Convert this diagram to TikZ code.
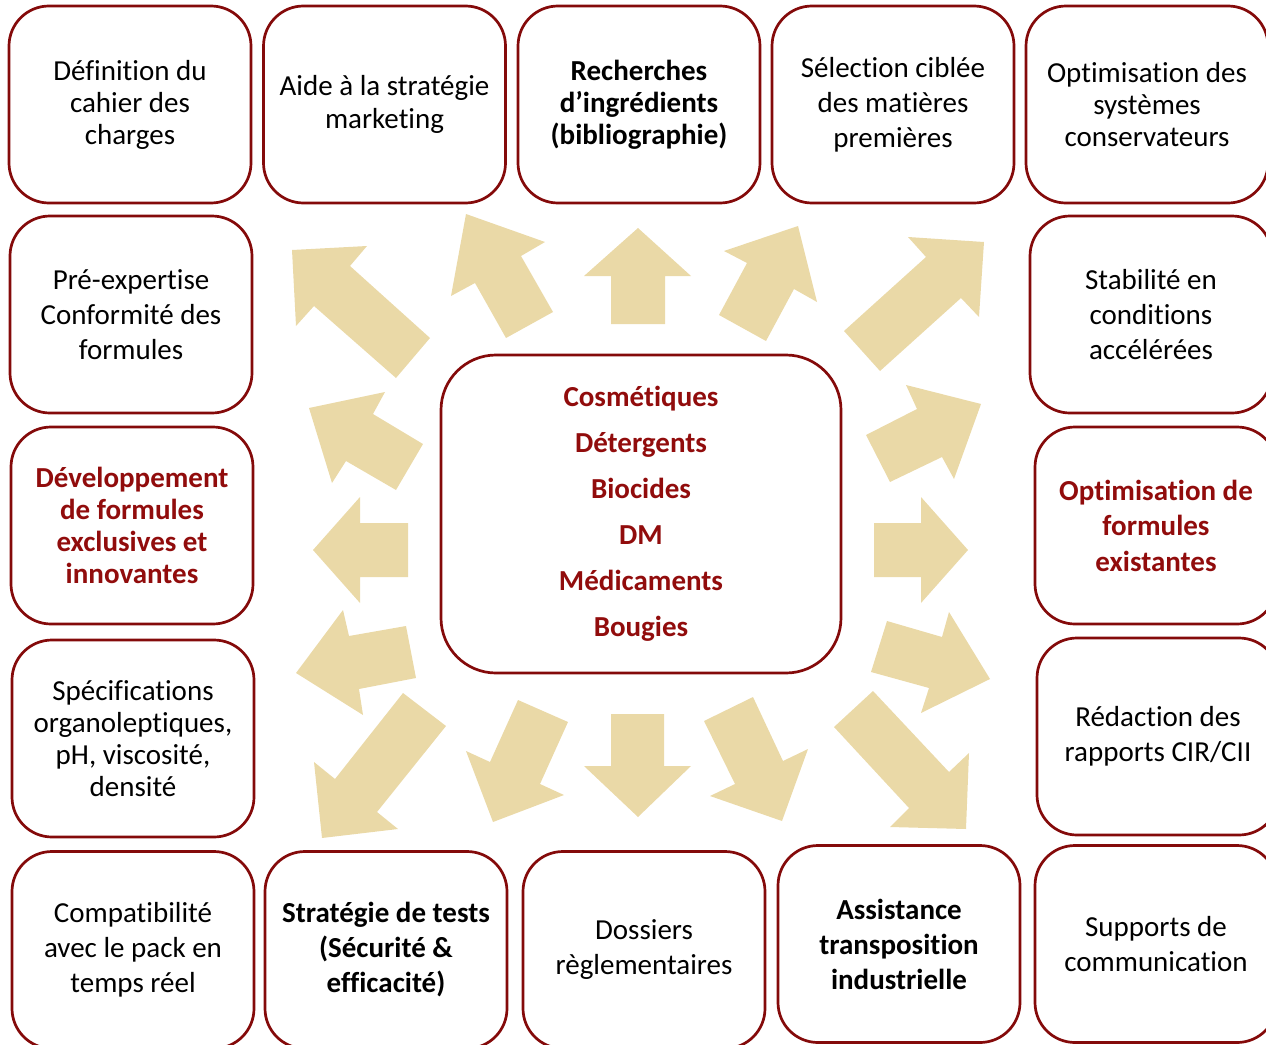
\documentclass[tikz,border=0pt]{standalone}
\usepackage{fontspec}
\setmainfont[Ligatures=NoCommon]{Carlito}
\definecolor{bord}{RGB}{132,10,10}
\definecolor{redtxt}{RGB}{145,12,12}
\definecolor{tanfill}{RGB}{234,217,167}
\begin{document}
\begin{tikzpicture}[x=1pt,y=-1pt,
  box/.style={draw=bord, line width=2.7pt, rounded corners=40pt, fill=white,
    align=center, minimum width=242pt, minimum height=197pt, inner sep=0pt,
    font=\fontsize{29}{33}\selectfont},
  wide/.style={font=\fontsize{29}{35}\selectfont},
  tight/.style={font=\fontsize{29}{32}\selectfont},
  hl/.style={text=redtxt, font=\fontsize{29}{32}\selectfont\bfseries},
  bld/.style={font=\fontsize{29}{35}\selectfont\bfseries},
  bldtight/.style={font=\fontsize{29}{32}\selectfont\bfseries},
  blockarrow/.style={fill=tanfill, draw=none}]
\path[use as bounding box] (0,0) rectangle (1266,1044);
\clip (0,0) rectangle (1266,1044);

% block arrows
\fill[blockarrow] (292,250) -- (367,246) -- (350,266) -- (430,338) -- (396,378) -- (314,306) -- (296,326) -- cycle;
\fill[blockarrow] (466,214) -- (545,242) -- (521,256) -- (553,312) -- (506,338) -- (475,283) -- (451,296) -- cycle;
\fill[blockarrow] (638,228) -- (691,276) -- (665,276) -- (665,324) -- (611,324) -- (611,276) -- (584,276) -- cycle;
\fill[blockarrow] (798,226) -- (817,302) -- (794,289) -- (766,341) -- (719,315) -- (747,263) -- (724,251) -- cycle;
\fill[blockarrow] (984,242) -- (979,317) -- (961,298) -- (880,371) -- (844,331) -- (926,257) -- (908,237) -- cycle;
\fill[blockarrow] (309,408) -- (385,392) -- (373,414) -- (423,444) -- (396,490) -- (346,461) -- (332,483) -- cycle;
\fill[blockarrow] (313,550) -- (360,497) -- (360,523) -- (408,523) -- (408,577) -- (360,577) -- (360,603) -- cycle;
\fill[blockarrow] (296,673) -- (343,610) -- (349,636) -- (406,626) -- (416,678) -- (359,689) -- (363,715) -- cycle;
\fill[blockarrow] (981,404) -- (954,479) -- (942,457) -- (890,482) -- (866,435) -- (917,409) -- (906,385) -- cycle;
\fill[blockarrow] (968,550) -- (921,603) -- (921,577) -- (874,577) -- (874,523) -- (921,523) -- (921,497) -- cycle;
\fill[blockarrow] (990,679) -- (921,713) -- (929,688) -- (871,672) -- (887,621) -- (942,637) -- (949,612) -- cycle;
\fill[blockarrow] (322,838) -- (314,762) -- (335,779) -- (403,693) -- (446,726) -- (377,812) -- (398,829) -- cycle;
\fill[blockarrow] (493,822) -- (466,751) -- (490,762) -- (518,700) -- (568,722) -- (540,784) -- (564,795) -- cycle;
\fill[blockarrow] (638,817) -- (584,766) -- (611,766) -- (611,714) -- (664,714) -- (664,766) -- (691,766) -- cycle;
\fill[blockarrow] (782,821) -- (710,796) -- (735,784) -- (704,721) -- (753,697) -- (783,761) -- (808,749) -- cycle;
\fill[blockarrow] (966,829) -- (890,827) -- (909,808) -- (834,727) -- (873,691) -- (949,772) -- (969,753) -- cycle;

% top row
\node[box, tight] (b1) at (130,104.5) {Définition du\\cahier des\\charges};
\node[box] (b2) at (384.5,104.5) {Aide à la stratégie\\marketing};
\node[box, bldtight] (b3) at (639,104.5) {Recherches\\d’ingrédients\\(bibliographie)};
\node[box, wide] (b4) at (893,104.5) {Sélection ciblée\\des matières\\premières};
\node[box, tight] (b5) at (1147,104.5) {Optimisation des\\systèmes\\conservateurs};

% left column
\node[box, wide] (l2) at (131,314.5) {Pré-expertise\\Conformité des\\formules};
\node[box, hl] (l3) at (132,525.5) {Développement\\de formules\\exclusives et\\innovantes};
\node[box, tight] (l4) at (133,738.5) {Spécifications\\organoleptiques,\\pH, viscosité,\\densité};

% right column
\node[box, hl, font=\fontsize{29}{35.5}\selectfont\bfseries] (r3) at (1156,525.5) {Optimisation de\\formules\\existantes};
\node[box, wide] (r2) at (1151,314.5) {Stabilité en\\conditions\\accélérées};
\node[box, wide] (r4) at (1158,736.5) {Rédaction des\\rapports CIR/CII};

% bottom row
\node[box, wide] (d1) at (133,950) {Compatibilité\\avec le pack en\\temps réel};
\node[box, bld] (d2) at (386,950) {Stratégie de tests\\(Sécurité \&\\efficacité)};
\node[box, wide] (d3) at (644,950) {Dossiers\\règlementaires};
\node[box, bld] (d4) at (899,944) {Assistance\\transposition\\industrielle};
\node[box, wide] (d5) at (1156,944) {Supports de\\communication};

% centre
\node[box, rounded corners=55pt, minimum width=400pt, minimum height=318pt,
  text=redtxt, font=\fontsize{29}{46}\selectfont\bfseries] (c) at (641,514)
  {Cosmétiques\\Détergents\\Biocides\\DM\\Médicaments\\Bougies};
\end{tikzpicture}
\end{document}
